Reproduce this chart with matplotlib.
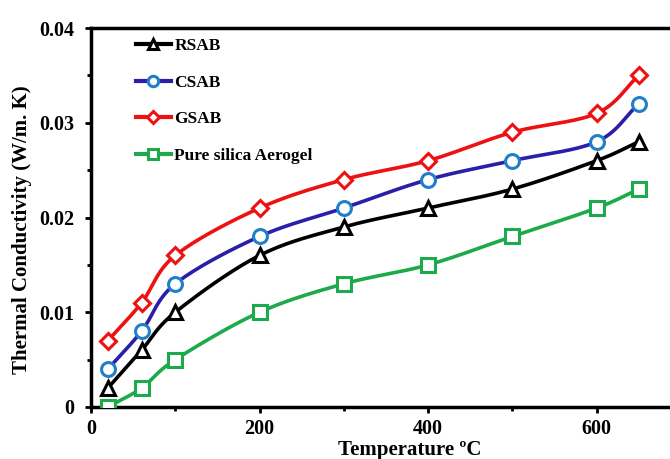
import numpy as np
import matplotlib
matplotlib.use("Agg")
import matplotlib.pyplot as plt
from matplotlib.ticker import MultipleLocator

temps = [20, 60, 100, 200, 300, 400, 500, 600, 650]
rsab = [0.002, 0.006, 0.010, 0.016, 0.019, 0.021, 0.023, 0.026, 0.028]
csab = [0.004, 0.008, 0.013, 0.018, 0.021, 0.024, 0.026, 0.028, 0.032]
gsab = [0.007, 0.011, 0.016, 0.021, 0.024, 0.026, 0.029, 0.031, 0.035]
pure = [0.000, 0.002, 0.005, 0.010, 0.013, 0.015, 0.018, 0.021, 0.023]
labels = ["RSAB", "CSAB", "GSAB", "Pure silica Aerogel"]
xtick_labels = ['0', '200', '400', '600']
ytick_labels = ['0', '0.01', '0.02', '0.03', '0.04']


def smooth(x, y, n=20):
    # Catmull-Rom style smoothing for rendering the line only
    x = np.asarray(x, float); y = np.asarray(y, float)
    px = np.concatenate([[2 * x[0] - x[1]], x, [2 * x[-1] - x[-2]]])
    py = np.concatenate([[2 * y[0] - y[1]], y, [2 * y[-1] - y[-2]]])
    xs, ys = [], []
    for i in range(1, len(px) - 2):
        p0, p1, p2, p3 = [np.array([px[j], py[j]]) for j in range(i - 1, i + 3)]
        t = np.linspace(0, 1, n, endpoint=False)[:, None]
        pt = 0.5 * ((2 * p1) + (-p0 + p2) * t + (2 * p0 - 5 * p1 + 4 * p2 - p3) * t ** 2
                    + (-p0 + 3 * p1 - 3 * p2 + p3) * t ** 3)
        xs.extend(pt[:, 0]); ys.extend(pt[:, 1])
    xs.append(x[-1]); ys.append(y[-1])
    return xs, ys


plt.rcParams['font.family'] = ['Liberation Serif', 'DejaVu Serif']
plt.rcParams['font.weight'] = 'bold'

W, H = 670, 459
fig = plt.figure(figsize=(W / 100, H / 100), dpi=100)
ax = fig.add_axes([91 / W, 1 - 407 / H, 590 / W, (407 - 28) / H])

series = [
    (rsab, 'black', 'black', '^'),
    (csab, '#2b1ea8', '#1f7fc8', 'o'),
    (gsab, '#ee1111', '#ee1111', 'D'),
    (pure, '#1daa4a', '#1daa4a', 's'),
]
for (vals, lc, mc, mk), lab in zip(series, labels):
    sx, sy = smooth(temps, vals)
    ax.plot(sx, sy, color=lc, lw=2.6, zorder=2)
    ms = 8 if mk == 'D' else 10
    ax.plot(temps, vals, ls='none', marker=mk, ms=ms, mfc='white', mec=mc, mew=2.2, zorder=3)
    ax.plot([], [], color=lc, lw=3, marker=mk, ms=ms * 0.75, mfc='white', mec=mc, mew=2.2, label=lab)

ax.set_xlim(0, 700)
ax.set_ylim(0, 0.04)
ax.xaxis.set_minor_locator(MultipleLocator(100))
ax.yaxis.set_minor_locator(MultipleLocator(0.005))
ax.set_xticks([0, 200, 400, 600])
ax.set_xticklabels(xtick_labels)
ax.set_yticks([0, 0.01, 0.02, 0.03, 0.04])
ax.set_yticklabels(ytick_labels)
ax.tick_params(which='both', direction='out', width=2, labelsize=14.5)
ax.tick_params(which='major', length=4)
ax.tick_params(which='minor', length=3)
ax.tick_params(axis='y', which='major', pad=8)
ax.tick_params(axis='x', which='major', pad=5)
for s in ax.spines.values():
    s.set_linewidth(2.5)
ax.spines['right'].set_visible(False)

fig.text(410 / W, 1 - 455 / H, 'Temperature ºC', fontsize=15, fontweight='bold',
         ha='center', va='baseline')
fig.text(22 / W, 1 - 230 / H, 'Thermal Conductivity (W/m. K)', fontsize=15,
         fontweight='bold', ha='center', va='center', rotation=90)

leg = ax.legend(loc='upper left', bbox_to_anchor=(0.05, 1.015), frameon=False,
                handlelength=2.0, handletextpad=0.2, labelspacing=1.18,
                prop={'family': 'Liberation Serif', 'weight': 'bold', 'size': 12.5})

fig.savefig('out.png', dpi=100)
